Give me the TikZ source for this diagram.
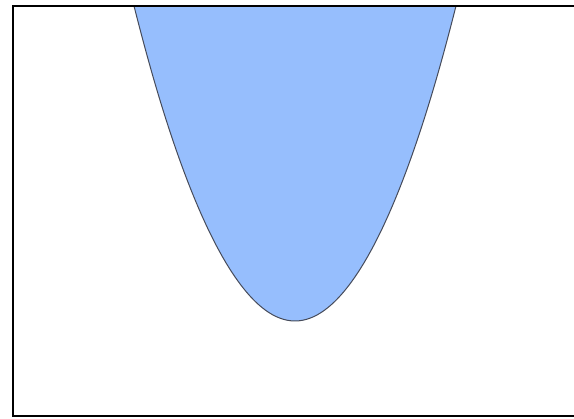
\documentclass[tikz,border=0pt]{standalone}
\definecolor{paraFill}{RGB}{150,190,253}
\definecolor{paraLine}{RGB}{70,75,90}
\tikzset{frameline/.style={line width=2.8pt,black}, curveline/.style={fill=paraFill,draw=paraLine,line width=1pt}}
\begin{document}
\begin{tikzpicture}[x=1pt,y=1pt]
\useasboundingbox (0,0) rectangle (574,419);
\clip (0,0) rectangle (574,419);
\fill[white] (0,0) rectangle (574,419);
\coordinate (pl) at (134,413);
\coordinate (pv) at (295,98);
\coordinate (pr) at (456,413);
\path[curveline] (pl) parabola bend (pv) (pr);
\coordinate (tl) at (13,413);
\coordinate (bl) at (13,3);
\coordinate (tr) at (590,413);
\coordinate (br) at (590,3);
\draw[frameline] (br) -- (bl) -- (tl) -- (tr);
\end{tikzpicture}
\end{document}
